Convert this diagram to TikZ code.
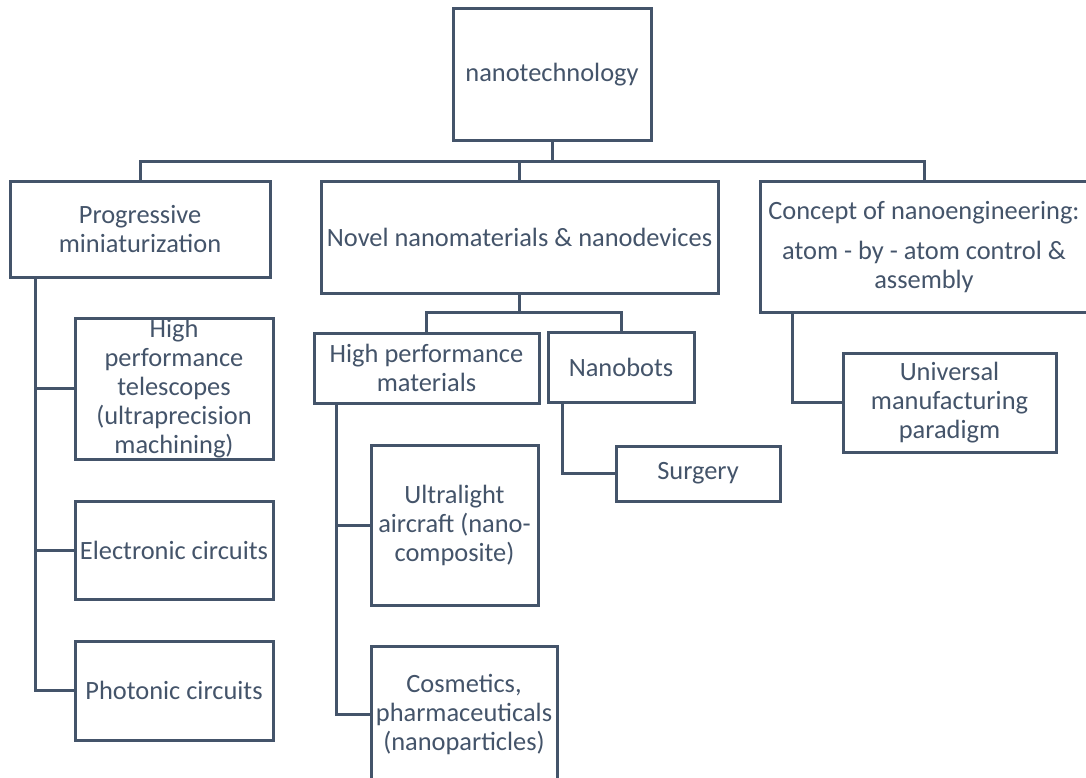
\documentclass[tikz,border=0pt]{standalone}
\usepackage{fontspec}
\setmainfont{Carlito}
\usepackage{xcolor}
\usepackage{tikz}
\usetikzlibrary{positioning,calc}
\definecolor{slate}{HTML}{44546A}

\begin{document}
\begin{tikzpicture}[x=1pt,y=-1pt,
  box/.style={draw=slate,line width=3pt,fill=white,align=center,inner sep=1pt,
              text=slate,font=\fontsize{26.4}{29}\selectfont},
  wire/.style={draw=slate,line width=3pt},
]
  \useasboundingbox (0,0) rectangle (1086,778);
  \clip (0,0) rectangle (1086,778);
  \node[box,minimum width=198,minimum height=132] (nano) at (552,75) {nanotechnology};
  \node[box,minimum width=260,minimum height=95] (prog) at (140,229.5)
    {Progressive\\miniaturization};
  \node[box,minimum width=397,minimum height=111] (novel) at (519.5,237.5)
    {Novel nanomaterials \& nanodevices};
  \node[box,minimum width=328,minimum height=130] (conc) at (924,247)
    {Concept of nanoengineering:\\[11pt]atom - by - atom control \&\\assembly};
  \node[box,minimum width=198,minimum height=141] (tele) at (174,388.5)
    {High\\performance\\telescopes\\(ultraprecision\\machining)};
  \node[box,minimum width=198,minimum height=98] (elec) at (174,550) {Electronic circuits};
  \node[box,minimum width=198,minimum height=99] (phot) at (174,690.5) {Photonic circuits};
  \node[box,minimum width=225,minimum height=70] (hpm) at (426.5,368)
    {High performance\\materials};
  \node[box,minimum width=146,minimum height=70] (bots) at (621,367) {Nanobots};
  \node[box,minimum width=167,minimum height=160] (ultra) at (454.5,525)
    {Ultralight\\aircraft (nano-\\composite)};
  \node[box,minimum width=186,minimum height=136] (cosm) at (464,714)
    {Cosmetics,\\pharmaceuticals\\(nanoparticles)};
  \node[box,minimum width=164,minimum height=55] (surg) at (698,473.5) {Surgery};
  \node[box,minimum width=213,minimum height=99] (univ) at (949.5,402.5)
    {Universal\\manufacturing\\paradigm};
  \coordinate (bus) at (552,162);
  \coordinate (nbus) at (519.5,312);
  \draw[wire] (nano) -- (bus);
  \foreach \c in {prog,novel,conc} \draw[wire] (bus) -| (\c);
  \draw[wire] (novel) -- (nbus);
  \foreach \c in {hpm,bots} \draw[wire] (nbus) -| (\c);
  \foreach \c in {tele,elec,phot} \draw[wire] ([xshift=27pt]prog.south west) |- (\c);
  \foreach \c in {ultra,cosm} \draw[wire] ([xshift=24pt]hpm.south west) |- (\c);
  \draw[wire] ([xshift=16pt]bots.south west) |- (surg);
  \draw[wire] ([xshift=34pt]conc.south west) |- (univ);
\end{tikzpicture}
\end{document}
